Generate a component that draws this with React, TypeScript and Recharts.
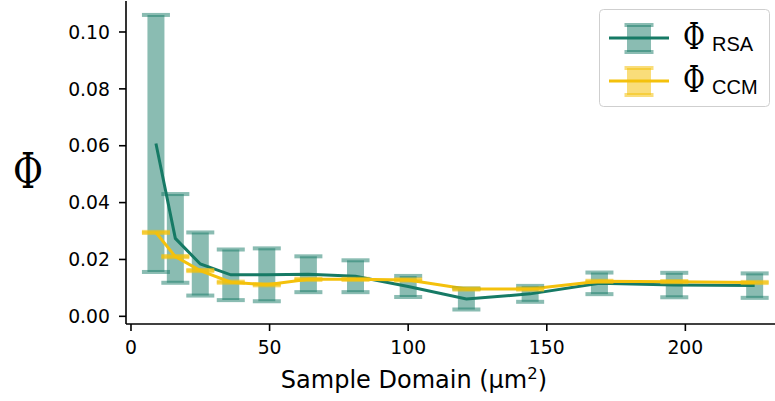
import {
  ComposedChart,
  ErrorBar,
  Legend,
  Line,
  Scatter,
  XAxis,
  YAxis,
} from "recharts"

// sample domain sizes (µm²) and mean ± std of Φ for both methods
const sampleDomain = [9, 16, 25, 36, 49, 64, 81, 100, 121, 144, 169, 196, 225]
const phiRsa = [0.0608, 0.0274, 0.0184, 0.0146, 0.0146, 0.0148, 0.0141, 0.0105, 0.0061, 0.0079, 0.0116, 0.011, 0.0108]
const phiRsaStd = [0.0452, 0.0156, 0.0111, 0.0089, 0.0093, 0.0063, 0.0056, 0.0037, 0.0037, 0.0028, 0.0038, 0.0043, 0.0043]
const phiCcm = [0.0295, 0.021, 0.0161, 0.012, 0.0111, 0.013, 0.013, 0.0128, 0.0096, 0.0096, 0.0123, 0.0122, 0.0119]
const phiCcmStd = [0.0002, 0.0002, 0.0002, 0.0002, 0.0002, 0.0002, 0.0002, 0.0002, 0.0002, 0.0002, 0.0002, 0.0002, 0.0002]

const xTicks = [0, 50, 100, 150, 200]
const yTicks = [0, 0.02, 0.04, 0.06, 0.08, 0.1]

const TEAL = "#167a65"
const GOLD = "#f4c10c"

const data = sampleDomain.map((domain, i) => ({
  domain,
  rsa: phiRsa[i],
  rsaStd: phiRsaStd[i],
  rsaLo: phiRsa[i] - phiRsaStd[i],
  rsaHi: phiRsa[i] + phiRsaStd[i],
  ccm: phiCcm[i],
  ccmStd: phiCcmStd[i],
  ccmLo: phiCcm[i] - phiCcmStd[i],
  ccmHi: phiCcm[i] + phiCcmStd[i],
}))

const legendItems = [
  { sub: "RSA", color: TEAL, barOpacity: 0.5 },
  { sub: "CCM", color: GOLD, barOpacity: 0.55 },
]

const tickStyle = { fontSize: 18.8, fill: "#000", fontFamily: "DejaVu Sans" }

function capShape(color: string, opacity: number) {
  return (props: any) => (
    <rect x={props.cx - 14} y={props.cy - 2} width={28} height={4} fill={color} fillOpacity={opacity} />
  )
}

function PhiLegend() {
  const rowY = (i: number) => 29 + i * 43
  return (
    <svg width={171} height={98} style={{ display: "block" }}>
      <rect x={0.5} y={0.5} width={170} height={97} rx={4} fill="#fff" stroke="#cfcfcf" />
      {legendItems.map((item, i) => {
        const cy = rowY(i)
        return (
          <g key={item.sub}>
            <rect x={28} y={cy - 13} width={24} height={27} fill={item.color} fillOpacity={item.barOpacity} />
            <rect x={25.5} y={cy - 15} width={29} height={4} fill={item.color} fillOpacity={item.barOpacity} />
            <rect x={25.5} y={cy + 12} width={29} height={4} fill={item.color} fillOpacity={item.barOpacity} />
            <line x1={10} x2={70} y1={cy} y2={cy} stroke={item.color} strokeWidth={3} />
            <text x={84} y={cy + 10.5} fill="#000">
              <tspan fontFamily="DejaVu Serif" fontSize={36.5} textLength={22} lengthAdjust="spacingAndGlyphs">
                Φ
              </tspan>
              <tspan x={113} dy={2.5} fontFamily="Liberation Sans" fontSize={20}>
                {item.sub}
              </tspan>
            </text>
          </g>
        )
      })}
    </svg>
  )
}

export default function App() {
  return (
    <div style={{ position: "absolute", left: 0, top: 0, width: 775, height: 401, overflow: "hidden", background: "#fff" }}>
      <ComposedChart width={800} height={401} data={data} margin={{ top: 1, right: 15.4, bottom: 0, left: 0 }}>
        <XAxis
          xAxisId="top"
          orientation="top"
          type="number"
          dataKey="domain"
          domain={[-1.8, 235.8]}
          height={0}
          tick={false}
          tickLine={false}
          axisLine={{ stroke: "#000", strokeWidth: 1.6 }}
          allowDataOverflow
        />
        <XAxis
          type="number"
          dataKey="domain"
          domain={[-1.8, 235.8]}
          ticks={xTicks}
          height={77}
          tick={tickStyle}
          tickSize={7}
          tickMargin={10}
          tickLine={{ stroke: "#000", strokeWidth: 1.6 }}
          axisLine={{ stroke: "#000", strokeWidth: 1.6 }}
          allowDataOverflow
          label={() => (
            <text x={414} y={388} textAnchor="middle" fontFamily="DejaVu Sans" fontSize={24} fill="#000">
              Sample Domain (μm
              <tspan fontSize={16.5} dy={-9.5}>2</tspan>
              <tspan dy={9.5}>)</tspan>
            </text>
          )}
        />
        <YAxis
          type="number"
          domain={[-0.0027, 0.1109]}
          ticks={yTicks}
          width={126}
          tick={tickStyle}
          tickSize={7}
          tickMargin={9}
          tickFormatter={(v: number) => v.toFixed(2)}
          tickLine={{ stroke: "#000", strokeWidth: 1.6 }}
          axisLine={{ stroke: "#000", strokeWidth: 1.6 }}
          allowDataOverflow
          label={() => (
            <text x={13} y={188} fontFamily="DejaVu Serif" fontSize={48} textLength={30} lengthAdjust="spacingAndGlyphs" fill="#000">
              Φ
            </text>
          )}
        />
        <Legend
          content={() => <PhiLegend />}
          layout="horizontal"
          verticalAlign="middle"
          align="center"
          wrapperStyle={{ position: "absolute", left: 599, top: 9, width: 171, height: 98 }}
        />
        <Line dataKey="rsa" name="RSA" stroke={TEAL} strokeWidth={3} dot={false} isAnimationActive={false}>
          <ErrorBar dataKey="rsaStd" width={0} strokeWidth={17} stroke={TEAL} strokeOpacity={0.5} direction="y" />
        </Line>
        <Scatter dataKey="rsaLo" legendType="none" shape={capShape(TEAL, 0.5)} isAnimationActive={false} />
        <Scatter dataKey="rsaHi" legendType="none" shape={capShape(TEAL, 0.5)} isAnimationActive={false} />
        <Line dataKey="ccm" name="CCM" stroke={GOLD} strokeWidth={3} dot={false} isAnimationActive={false}>
          <ErrorBar dataKey="ccmStd" width={0} strokeWidth={17} stroke={GOLD} strokeOpacity={0.55} direction="y" />
        </Line>
        <Scatter dataKey="ccmLo" legendType="none" shape={capShape(GOLD, 0.6)} isAnimationActive={false} />
        <Scatter dataKey="ccmHi" legendType="none" shape={capShape(GOLD, 0.6)} isAnimationActive={false} />
      </ComposedChart>
    </div>
  )
}
